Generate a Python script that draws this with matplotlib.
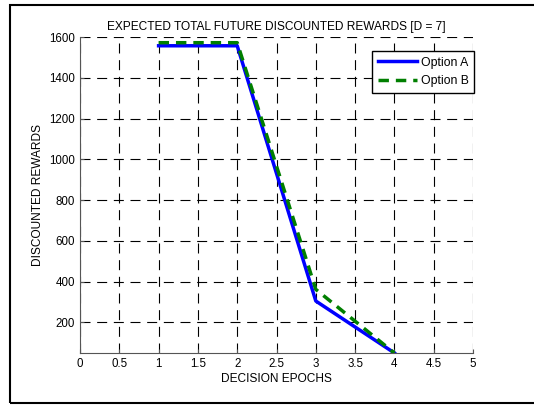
import matplotlib
matplotlib.use('Agg')
import matplotlib.pyplot as plt
from matplotlib.patches import Rectangle

plt.rcParams['font.family'] = ['Liberation Sans', 'DejaVu Sans']

epochs = [1, 2, 3, 4]
option_a = [1557, 1557, 305, 50]
option_b = [1572, 1572, 362, 50]

fig = plt.figure(figsize=(5.34, 4.05), dpi=100)
fig.patches.append(Rectangle((10/534, 2/405), 530/534, 398/405, transform=fig.transFigure,
                             fill=False, edgecolor='black', linewidth=1.5))

ax = fig.add_axes([80/534, 1-353/405, 393/534, 316/405])
ax.plot(epochs, option_a, color='#0000ff', linewidth=2.5, label='Option A')
ax.plot(epochs, option_b, color='#007f00', linewidth=2.5, linestyle=(0, (3, 2)), label='Option B')

ax.set_xlim(0, 5)
ax.set_ylim(50, 1600)
ax.set_xticks([0, 0.5, 1, 1.5, 2, 2.5, 3, 3.5, 4, 4.5, 5])
ax.set_xticklabels(['0', '0.5', '1', '1.5', '2', '2.5', '3', '3.5', '4', '4.5', '5'])
ax.set_yticks([200, 400, 600, 800, 1000, 1200, 1400, 1600])
ax.tick_params(direction='in', labelsize=8.3, length=3, color='#555555')
ax.grid(True, color='black', linestyle=(0, (9, 6)), linewidth=0.8)
for s in ['top', 'right']:
    ax.spines[s].set_visible(False)
for s in ['left', 'bottom']:
    ax.spines[s].set_color('#555555')

ax.set_title('EXPECTED TOTAL FUTURE DISCOUNTED REWARDS [D = 7]', fontsize=8.6, pad=5)
ax.set_xlabel('DECISION EPOCHS', fontsize=8.6, labelpad=2)
ax.set_ylabel('DISCOUNTED REWARDS', fontsize=8.6, labelpad=4)

leg = ax.legend(loc='upper right', bbox_to_anchor=(1.018, 0.975), fontsize=8.8, frameon=True,
                fancybox=False, edgecolor='black', framealpha=1, handlelength=3.2,
                borderpad=0.45, labelspacing=0.55, handletextpad=0.3)
leg.get_frame().set_linewidth(1.0)

fig.savefig('out.png', dpi=100)
